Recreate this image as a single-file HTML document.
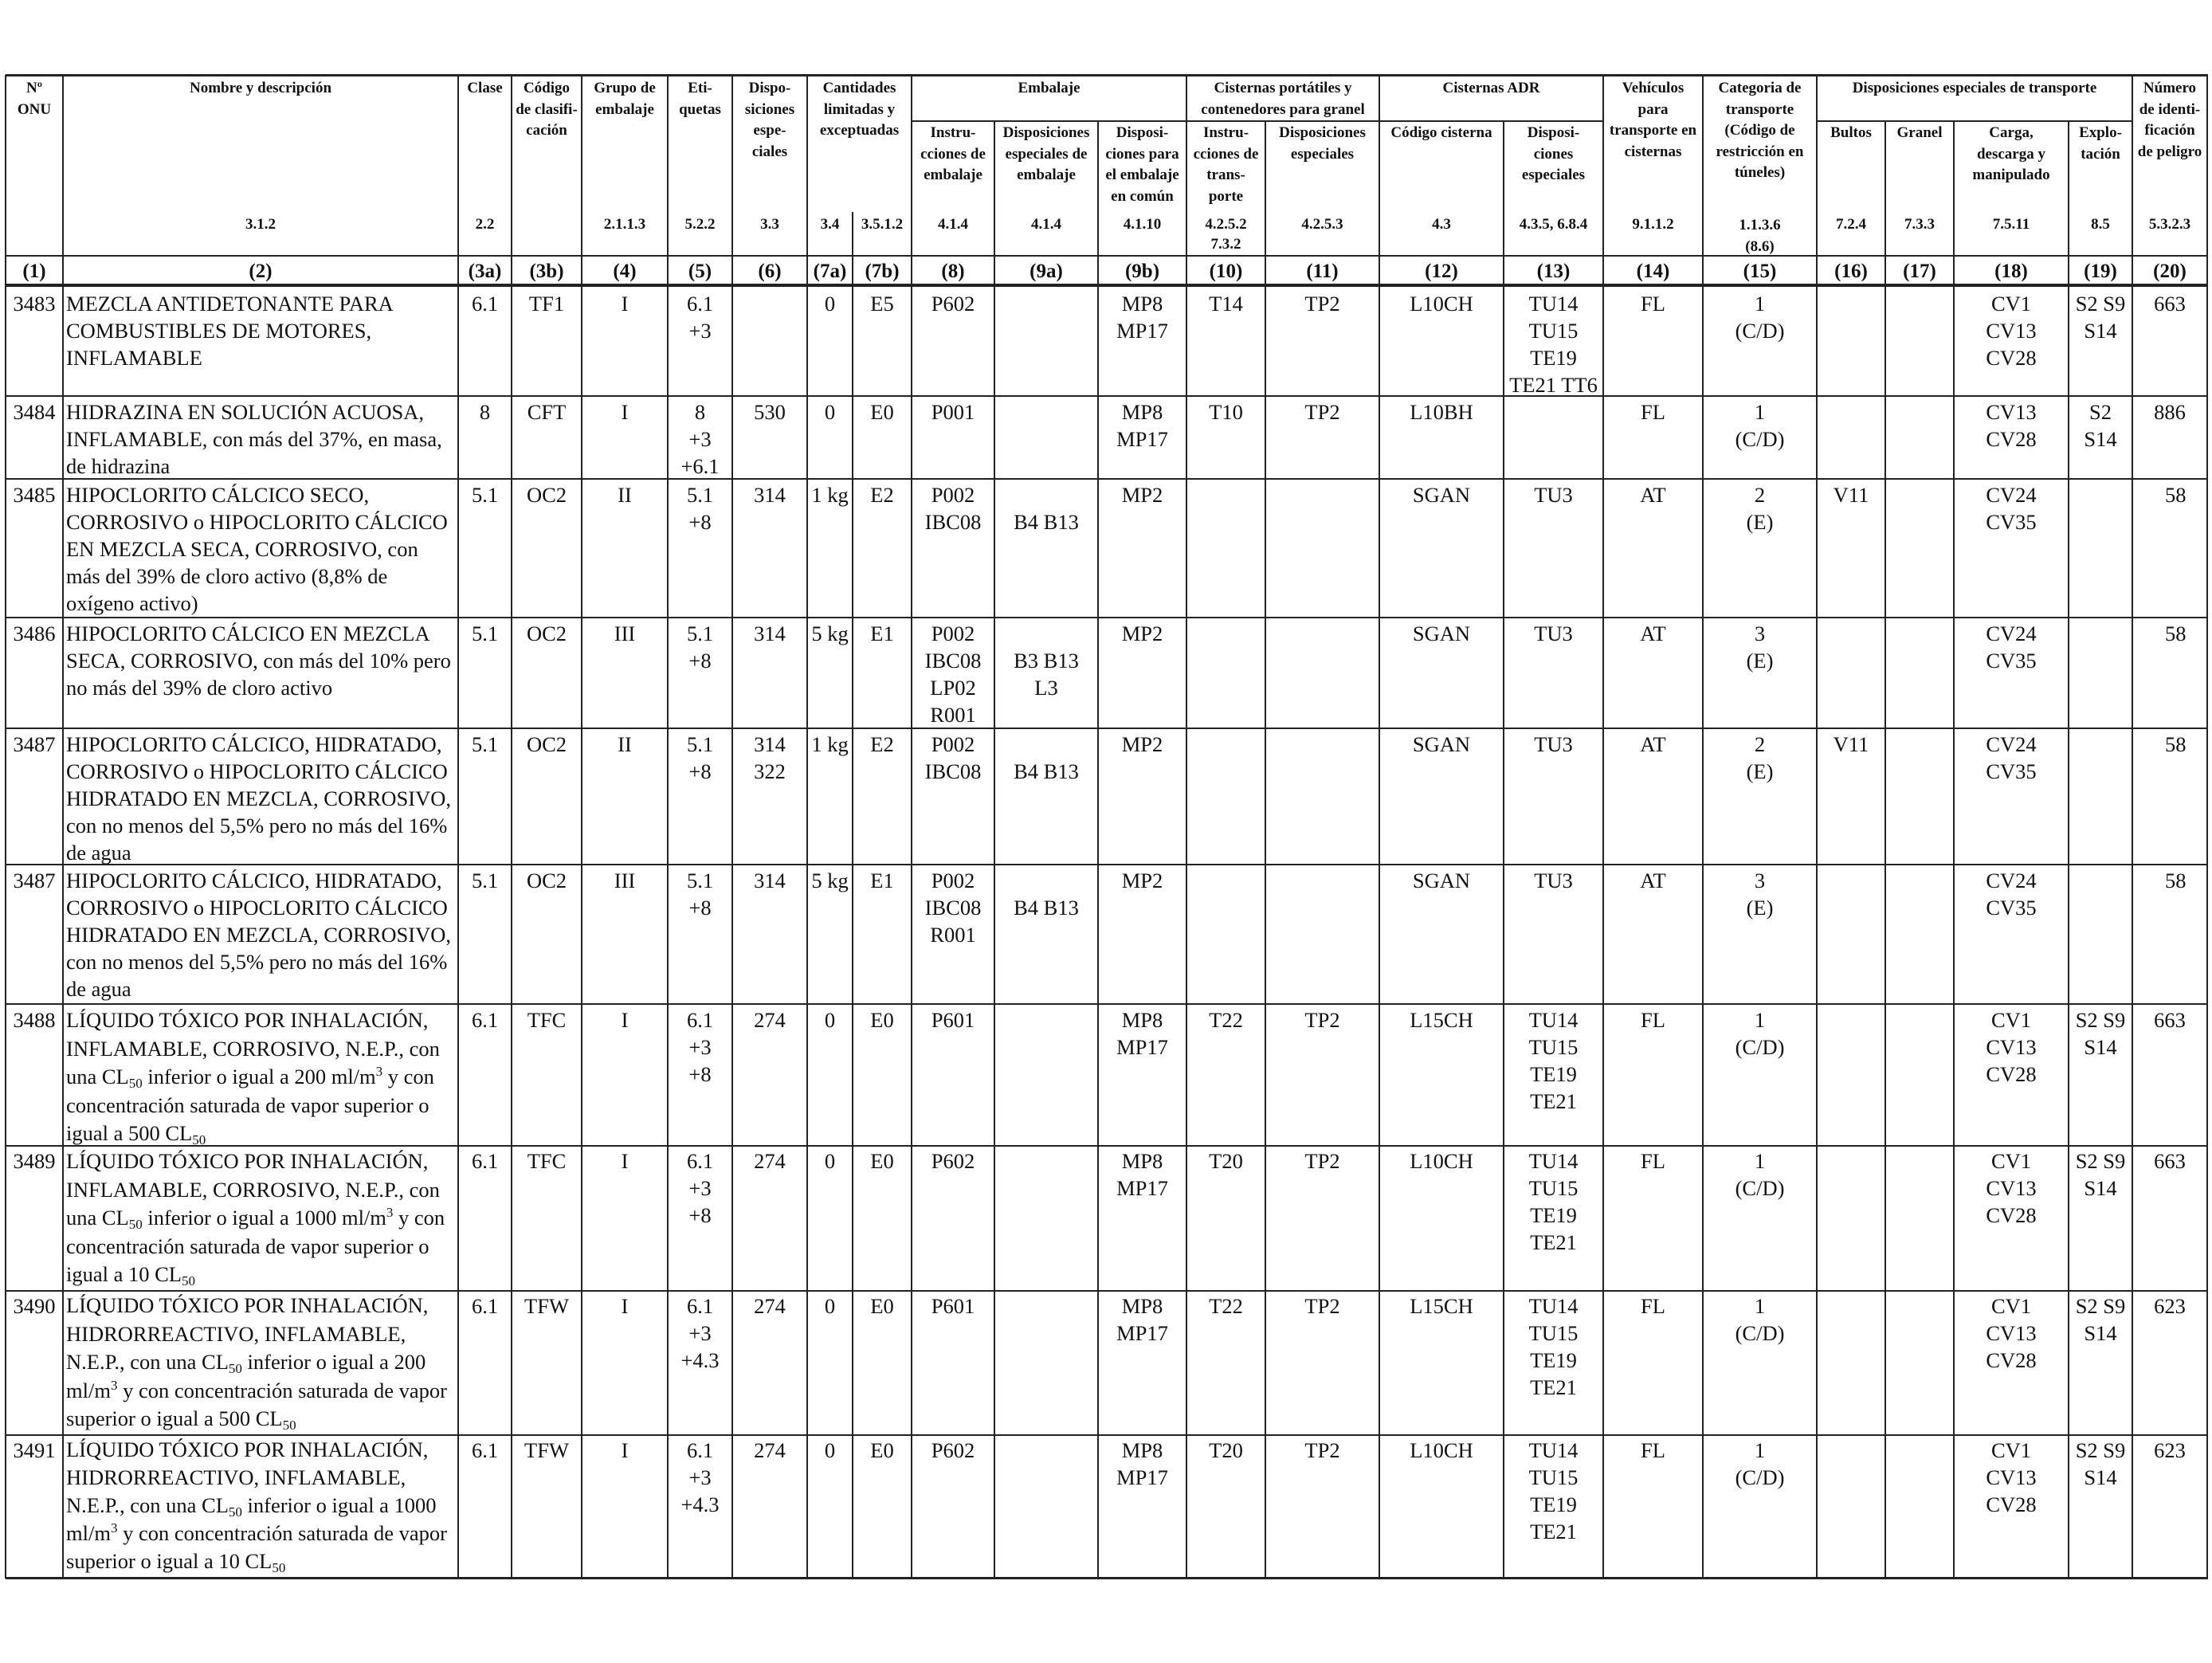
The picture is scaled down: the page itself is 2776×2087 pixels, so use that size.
<!DOCTYPE html>
<html><head><meta charset="utf-8">
<style>
body{margin:0;background:#fff;}
#p{position:relative;width:2776px;height:2087px;background:#fff;overflow:hidden;font-family:"Liberation Serif",serif;color:#111;}
.h,.v{position:absolute;background:#222;}
.c{position:absolute;text-align:center;font-size:26.5px;line-height:34px;white-space:nowrap;}
.n{text-align:left;padding-left:4px;}
.t{line-height:35.5px;}
.b{position:absolute;text-align:center;font-weight:bold;font-size:19px;line-height:26.5px;white-space:nowrap;}
.k{position:absolute;text-align:center;font-weight:bold;font-size:25px;line-height:34px;white-space:nowrap;top:324px;}
sub{font-size:17px;vertical-align:-5px;line-height:0;}
sup{font-size:17px;vertical-align:10px;line-height:0;}
</style></head><body><div id="p">
<div class="h" style="left:7px;top:93px;width:2764px;height:3px"></div>
<div class="h" style="left:1144px;top:151px;width:868px;height:2px"></div>
<div class="h" style="left:2280px;top:151px;width:396px;height:2px"></div>
<div class="h" style="left:7px;top:320px;width:2764px;height:2px"></div>
<div class="h" style="left:7px;top:356px;width:2764px;height:4px"></div>
<div class="h" style="left:7px;top:496px;width:2764px;height:2px"></div>
<div class="h" style="left:7px;top:600px;width:2764px;height:2px"></div>
<div class="h" style="left:7px;top:774px;width:2764px;height:2px"></div>
<div class="h" style="left:7px;top:913px;width:2764px;height:2px"></div>
<div class="h" style="left:7px;top:1084px;width:2764px;height:2px"></div>
<div class="h" style="left:7px;top:1259px;width:2764px;height:2px"></div>
<div class="h" style="left:7px;top:1437px;width:2764px;height:2px"></div>
<div class="h" style="left:7px;top:1619px;width:2764px;height:2px"></div>
<div class="h" style="left:7px;top:1800px;width:2764px;height:2px"></div>
<div class="h" style="left:7px;top:1979px;width:2764px;height:3px"></div>
<div class="v" style="left:6px;top:94px;width:2px;height:1887px"></div>
<div class="v" style="left:78px;top:94px;width:2px;height:1887px"></div>
<div class="v" style="left:574px;top:94px;width:2px;height:1887px"></div>
<div class="v" style="left:641px;top:94px;width:2px;height:1887px"></div>
<div class="v" style="left:729px;top:94px;width:2px;height:1887px"></div>
<div class="v" style="left:837px;top:94px;width:2px;height:1887px"></div>
<div class="v" style="left:918px;top:94px;width:2px;height:1887px"></div>
<div class="v" style="left:1012px;top:94px;width:2px;height:1887px"></div>
<div class="v" style="left:1069px;top:266px;width:2px;height:1715px"></div>
<div class="v" style="left:1143px;top:94px;width:2px;height:1887px"></div>
<div class="v" style="left:1247px;top:152px;width:2px;height:1829px"></div>
<div class="v" style="left:1377px;top:152px;width:2px;height:1829px"></div>
<div class="v" style="left:1488px;top:94px;width:2px;height:1887px"></div>
<div class="v" style="left:1587px;top:152px;width:2px;height:1829px"></div>
<div class="v" style="left:1730px;top:94px;width:2px;height:1887px"></div>
<div class="v" style="left:1886px;top:152px;width:2px;height:1829px"></div>
<div class="v" style="left:2011px;top:94px;width:2px;height:1887px"></div>
<div class="v" style="left:2136px;top:94px;width:2px;height:1887px"></div>
<div class="v" style="left:2279px;top:94px;width:2px;height:1887px"></div>
<div class="v" style="left:2365px;top:152px;width:2px;height:1829px"></div>
<div class="v" style="left:2451px;top:152px;width:2px;height:1829px"></div>
<div class="v" style="left:2595px;top:152px;width:2px;height:1829px"></div>
<div class="v" style="left:2675px;top:94px;width:2px;height:1887px"></div>
<div class="v" style="left:2769px;top:94px;width:2px;height:1887px"></div>

<div class="b" style="left:7px;width:72px;top:98px">Nº<br>ONU</div>
<div class="b" style="left:79px;width:496px;top:98px">Nombre y descripción</div>
<div class="b" style="left:575px;width:67px;top:98px">Clase</div>
<div class="b" style="left:642px;width:88px;top:98px">Código<br>de clasifi-<br>cación</div>
<div class="b" style="left:730px;width:108px;top:98px">Grupo de<br>embalaje</div>
<div class="b" style="left:838px;width:81px;top:98px">Eti-<br>quetas</div>
<div class="b" style="left:919px;width:94px;top:98px">Dispo-<br>siciones<br>espe-<br>ciales</div>
<div class="b" style="left:1013px;width:131px;top:98px">Cantidades<br>limitadas y<br>exceptuadas</div>
<div class="b" style="left:1144px;width:345px;top:98px">Embalaje</div>
<div class="b" style="left:1489px;width:242px;top:98px">Cisternas portátiles y<br>contenedores para granel</div>
<div class="b" style="left:1731px;width:281px;top:98px">Cisternas ADR</div>
<div class="b" style="left:2012px;width:125px;top:98px">Vehículos<br>para<br>transporte en<br>cisternas</div>
<div class="b" style="left:2137px;width:143px;top:98px">Categoria de<br>transporte<br>(Código de<br>restricción en<br>túneles)</div>
<div class="b" style="left:2280px;width:396px;top:98px">Disposiciones especiales de transporte</div>
<div class="b" style="left:2676px;width:94px;top:98px">Número<br>de identi-<br>ficación<br>de peligro</div>
<div class="b" style="left:1144px;width:104px;top:154px">Instru-<br>cciones de<br>embalaje</div>
<div class="b" style="left:1248px;width:130px;top:154px">Disposiciones<br>especiales de<br>embalaje</div>
<div class="b" style="left:1378px;width:111px;top:154px">Disposi-<br>ciones para<br>el embalaje<br>en común</div>
<div class="b" style="left:1489px;width:99px;top:154px">Instru-<br>cciones de<br>trans-<br>porte</div>
<div class="b" style="left:1588px;width:143px;top:154px">Disposiciones<br>especiales</div>
<div class="b" style="left:1731px;width:156px;top:154px">Código cisterna</div>
<div class="b" style="left:1887px;width:125px;top:154px">Disposi-<br>ciones<br>especiales</div>
<div class="b" style="left:2280px;width:86px;top:154px">Bultos</div>
<div class="b" style="left:2366px;width:86px;top:154px">Granel</div>
<div class="b" style="left:2452px;width:144px;top:154px">Carga,<br>descarga y<br>manipulado</div>
<div class="b" style="left:2596px;width:80px;top:154px">Explo-<br>tación</div>
<div class="b" style="left:79px;width:496px;top:269px">3.1.2</div>
<div class="b" style="left:575px;width:67px;top:269px">2.2</div>
<div class="b" style="left:730px;width:108px;top:269px">2.1.1.3</div>
<div class="b" style="left:838px;width:81px;top:269px">5.2.2</div>
<div class="b" style="left:919px;width:94px;top:269px">3.3</div>
<div class="b" style="left:1013px;width:57px;top:269px">3.4</div>
<div class="b" style="left:1070px;width:74px;top:269px">3.5.1.2</div>
<div class="b" style="left:1144px;width:104px;top:269px">4.1.4</div>
<div class="b" style="left:1248px;width:130px;top:269px">4.1.4</div>
<div class="b" style="left:1378px;width:111px;top:269px">4.1.10</div>
<div class="b" style="left:1489px;width:99px;top:269px;line-height:25px">4.2.5.2<br>7.3.2</div>
<div class="b" style="left:1588px;width:143px;top:269px">4.2.5.3</div>
<div class="b" style="left:1731px;width:156px;top:269px">4.3</div>
<div class="b" style="left:1887px;width:125px;top:269px">4.3.5, 6.8.4</div>
<div class="b" style="left:2012px;width:125px;top:269px">9.1.1.2</div>
<div class="b" style="left:2137px;width:143px;top:269px;line-height:27px">1.1.3.6<br>(8.6)</div>
<div class="b" style="left:2280px;width:86px;top:269px">7.2.4</div>
<div class="b" style="left:2366px;width:86px;top:269px">7.3.3</div>
<div class="b" style="left:2452px;width:144px;top:269px">7.5.11</div>
<div class="b" style="left:2596px;width:80px;top:269px">8.5</div>
<div class="b" style="left:2676px;width:94px;top:269px">5.3.2.3</div>
<div class="k" style="left:7px;width:72px">(1)</div>
<div class="k" style="left:79px;width:496px">(2)</div>
<div class="k" style="left:575px;width:67px">(3a)</div>
<div class="k" style="left:642px;width:88px">(3b)</div>
<div class="k" style="left:730px;width:108px">(4)</div>
<div class="k" style="left:838px;width:81px">(5)</div>
<div class="k" style="left:919px;width:94px">(6)</div>
<div class="k" style="left:1013px;width:57px">(7a)</div>
<div class="k" style="left:1070px;width:74px">(7b)</div>
<div class="k" style="left:1144px;width:104px">(8)</div>
<div class="k" style="left:1248px;width:130px">(9a)</div>
<div class="k" style="left:1378px;width:111px">(9b)</div>
<div class="k" style="left:1489px;width:99px">(10)</div>
<div class="k" style="left:1588px;width:143px">(11)</div>
<div class="k" style="left:1731px;width:156px">(12)</div>
<div class="k" style="left:1887px;width:125px">(13)</div>
<div class="k" style="left:2012px;width:125px">(14)</div>
<div class="k" style="left:2137px;width:143px">(15)</div>
<div class="k" style="left:2280px;width:86px">(16)</div>
<div class="k" style="left:2366px;width:86px">(17)</div>
<div class="k" style="left:2452px;width:144px">(18)</div>
<div class="k" style="left:2596px;width:80px">(19)</div>
<div class="k" style="left:2676px;width:94px">(20)</div>

<div class="c" style="left:7px;width:72px;top:364px">3483</div>
<div class="c n" style="left:79px;width:492px;top:364px">MEZCLA ANTIDETONANTE PARA<br>COMBUSTIBLES DE MOTORES,<br>INFLAMABLE</div>
<div class="c" style="left:575px;width:67px;top:364px">6.1</div>
<div class="c" style="left:642px;width:88px;top:364px">TF1</div>
<div class="c" style="left:730px;width:108px;top:364px">I</div>
<div class="c" style="left:838px;width:81px;top:364px">6.1<br>+3</div>
<div class="c" style="left:1013px;width:57px;top:364px">0</div>
<div class="c" style="left:1070px;width:74px;top:364px">E5</div>
<div class="c" style="left:1144px;width:104px;top:364px">P602</div>
<div class="c" style="left:1378px;width:111px;top:364px">MP8<br>MP17</div>
<div class="c" style="left:1489px;width:99px;top:364px">T14</div>
<div class="c" style="left:1588px;width:143px;top:364px">TP2</div>
<div class="c" style="left:1731px;width:156px;top:364px">L10CH</div>
<div class="c" style="left:1887px;width:125px;top:364px">TU14<br>TU15<br>TE19<br>TE21 TT6</div>
<div class="c" style="left:2012px;width:125px;top:364px">FL</div>
<div class="c" style="left:2137px;width:143px;top:364px">1<br>(C/D)</div>
<div class="c" style="left:2452px;width:144px;top:364px">CV1<br>CV13<br>CV28</div>
<div class="c" style="left:2596px;width:80px;top:364px">S2 S9<br>S14</div>
<div class="c" style="left:2676px;width:94px;top:364px">663</div>

<div class="c" style="left:7px;width:72px;top:500px">3484</div>
<div class="c n" style="left:79px;width:492px;top:500px">HIDRAZINA EN SOLUCIÓN ACUOSA,<br>INFLAMABLE, con más del 37%, en masa,<br>de hidrazina</div>
<div class="c" style="left:575px;width:67px;top:500px">8</div>
<div class="c" style="left:642px;width:88px;top:500px">CFT</div>
<div class="c" style="left:730px;width:108px;top:500px">I</div>
<div class="c" style="left:838px;width:81px;top:500px">8<br>+3<br>+6.1</div>
<div class="c" style="left:919px;width:94px;top:500px">530</div>
<div class="c" style="left:1013px;width:57px;top:500px">0</div>
<div class="c" style="left:1070px;width:74px;top:500px">E0</div>
<div class="c" style="left:1144px;width:104px;top:500px">P001</div>
<div class="c" style="left:1378px;width:111px;top:500px">MP8<br>MP17</div>
<div class="c" style="left:1489px;width:99px;top:500px">T10</div>
<div class="c" style="left:1588px;width:143px;top:500px">TP2</div>
<div class="c" style="left:1731px;width:156px;top:500px">L10BH</div>
<div class="c" style="left:2012px;width:125px;top:500px">FL</div>
<div class="c" style="left:2137px;width:143px;top:500px">1<br>(C/D)</div>
<div class="c" style="left:2452px;width:144px;top:500px">CV13<br>CV28</div>
<div class="c" style="left:2596px;width:80px;top:500px">S2<br>S14</div>
<div class="c" style="left:2676px;width:94px;top:500px">886</div>

<div class="c" style="left:7px;width:72px;top:604px">3485</div>
<div class="c n" style="left:79px;width:492px;top:604px">HIPOCLORITO CÁLCICO SECO,<br>CORROSIVO o HIPOCLORITO CÁLCICO<br>EN MEZCLA SECA, CORROSIVO, con<br>más del 39% de cloro activo (8,8% de<br>oxígeno activo)</div>
<div class="c" style="left:575px;width:67px;top:604px">5.1</div>
<div class="c" style="left:642px;width:88px;top:604px">OC2</div>
<div class="c" style="left:730px;width:108px;top:604px">II</div>
<div class="c" style="left:838px;width:81px;top:604px">5.1<br>+8</div>
<div class="c" style="left:919px;width:94px;top:604px">314</div>
<div class="c" style="left:1013px;width:57px;top:604px">1 kg</div>
<div class="c" style="left:1070px;width:74px;top:604px">E2</div>
<div class="c" style="left:1144px;width:104px;top:604px">P002<br>IBC08</div>
<div class="c" style="left:1248px;width:130px;top:604px"><br>B4 B13</div>
<div class="c" style="left:1378px;width:111px;top:604px">MP2</div>
<div class="c" style="left:1731px;width:156px;top:604px">SGAN</div>
<div class="c" style="left:1887px;width:125px;top:604px">TU3</div>
<div class="c" style="left:2012px;width:125px;top:604px">AT</div>
<div class="c" style="left:2137px;width:143px;top:604px">2<br>(E)</div>
<div class="c" style="left:2280px;width:86px;top:604px">V11</div>
<div class="c" style="left:2452px;width:144px;top:604px">CV24<br>CV35</div>
<div class="c" style="left:2676px;width:94px;top:604px;text-align:right">58&nbsp;&nbsp;&nbsp;&nbsp;</div>

<div class="c" style="left:7px;width:72px;top:778px">3486</div>
<div class="c n" style="left:79px;width:492px;top:778px">HIPOCLORITO CÁLCICO EN MEZCLA<br>SECA, CORROSIVO, con más del 10% pero<br>no más del 39% de cloro activo</div>
<div class="c" style="left:575px;width:67px;top:778px">5.1</div>
<div class="c" style="left:642px;width:88px;top:778px">OC2</div>
<div class="c" style="left:730px;width:108px;top:778px">III</div>
<div class="c" style="left:838px;width:81px;top:778px">5.1<br>+8</div>
<div class="c" style="left:919px;width:94px;top:778px">314</div>
<div class="c" style="left:1013px;width:57px;top:778px">5 kg</div>
<div class="c" style="left:1070px;width:74px;top:778px">E1</div>
<div class="c" style="left:1144px;width:104px;top:778px">P002<br>IBC08<br>LP02<br>R001</div>
<div class="c" style="left:1248px;width:130px;top:778px"><br>B3 B13<br>L3</div>
<div class="c" style="left:1378px;width:111px;top:778px">MP2</div>
<div class="c" style="left:1731px;width:156px;top:778px">SGAN</div>
<div class="c" style="left:1887px;width:125px;top:778px">TU3</div>
<div class="c" style="left:2012px;width:125px;top:778px">AT</div>
<div class="c" style="left:2137px;width:143px;top:778px">3<br>(E)</div>
<div class="c" style="left:2452px;width:144px;top:778px">CV24<br>CV35</div>
<div class="c" style="left:2676px;width:94px;top:778px;text-align:right">58&nbsp;&nbsp;&nbsp;&nbsp;</div>

<div class="c" style="left:7px;width:72px;top:917px">3487</div>
<div class="c n" style="left:79px;width:492px;top:917px">HIPOCLORITO CÁLCICO, HIDRATADO,<br>CORROSIVO o HIPOCLORITO CÁLCICO<br>HIDRATADO EN MEZCLA, CORROSIVO,<br>con no menos del 5,5% pero no más del 16%<br>de agua</div>
<div class="c" style="left:575px;width:67px;top:917px">5.1</div>
<div class="c" style="left:642px;width:88px;top:917px">OC2</div>
<div class="c" style="left:730px;width:108px;top:917px">II</div>
<div class="c" style="left:838px;width:81px;top:917px">5.1<br>+8</div>
<div class="c" style="left:919px;width:94px;top:917px">314<br>322</div>
<div class="c" style="left:1013px;width:57px;top:917px">1 kg</div>
<div class="c" style="left:1070px;width:74px;top:917px">E2</div>
<div class="c" style="left:1144px;width:104px;top:917px">P002<br>IBC08</div>
<div class="c" style="left:1248px;width:130px;top:917px"><br>B4 B13</div>
<div class="c" style="left:1378px;width:111px;top:917px">MP2</div>
<div class="c" style="left:1731px;width:156px;top:917px">SGAN</div>
<div class="c" style="left:1887px;width:125px;top:917px">TU3</div>
<div class="c" style="left:2012px;width:125px;top:917px">AT</div>
<div class="c" style="left:2137px;width:143px;top:917px">2<br>(E)</div>
<div class="c" style="left:2280px;width:86px;top:917px">V11</div>
<div class="c" style="left:2452px;width:144px;top:917px">CV24<br>CV35</div>
<div class="c" style="left:2676px;width:94px;top:917px;text-align:right">58&nbsp;&nbsp;&nbsp;&nbsp;</div>

<div class="c" style="left:7px;width:72px;top:1088px">3487</div>
<div class="c n" style="left:79px;width:492px;top:1088px">HIPOCLORITO CÁLCICO, HIDRATADO,<br>CORROSIVO o HIPOCLORITO CÁLCICO<br>HIDRATADO EN MEZCLA, CORROSIVO,<br>con no menos del 5,5% pero no más del 16%<br>de agua</div>
<div class="c" style="left:575px;width:67px;top:1088px">5.1</div>
<div class="c" style="left:642px;width:88px;top:1088px">OC2</div>
<div class="c" style="left:730px;width:108px;top:1088px">III</div>
<div class="c" style="left:838px;width:81px;top:1088px">5.1<br>+8</div>
<div class="c" style="left:919px;width:94px;top:1088px">314</div>
<div class="c" style="left:1013px;width:57px;top:1088px">5 kg</div>
<div class="c" style="left:1070px;width:74px;top:1088px">E1</div>
<div class="c" style="left:1144px;width:104px;top:1088px">P002<br>IBC08<br>R001</div>
<div class="c" style="left:1248px;width:130px;top:1088px"><br>B4 B13</div>
<div class="c" style="left:1378px;width:111px;top:1088px">MP2</div>
<div class="c" style="left:1731px;width:156px;top:1088px">SGAN</div>
<div class="c" style="left:1887px;width:125px;top:1088px">TU3</div>
<div class="c" style="left:2012px;width:125px;top:1088px">AT</div>
<div class="c" style="left:2137px;width:143px;top:1088px">3<br>(E)</div>
<div class="c" style="left:2452px;width:144px;top:1088px">CV24<br>CV35</div>
<div class="c" style="left:2676px;width:94px;top:1088px;text-align:right">58&nbsp;&nbsp;&nbsp;&nbsp;</div>

<div class="c" style="left:7px;width:72px;top:1263px">3488</div>
<div class="c n t" style="left:79px;width:492px;top:1263px">LÍQUIDO TÓXICO POR INHALACIÓN,<br>INFLAMABLE, CORROSIVO, N.E.P., con<br>una CL<sub>50</sub> inferior o igual a 200 ml/m<sup>3</sup> y con<br>concentración saturada de vapor superior o<br>igual a 500 CL<sub>50</sub></div>
<div class="c" style="left:575px;width:67px;top:1263px">6.1</div>
<div class="c" style="left:642px;width:88px;top:1263px">TFC</div>
<div class="c" style="left:730px;width:108px;top:1263px">I</div>
<div class="c" style="left:838px;width:81px;top:1263px">6.1<br>+3<br>+8</div>
<div class="c" style="left:919px;width:94px;top:1263px">274</div>
<div class="c" style="left:1013px;width:57px;top:1263px">0</div>
<div class="c" style="left:1070px;width:74px;top:1263px">E0</div>
<div class="c" style="left:1144px;width:104px;top:1263px">P601</div>
<div class="c" style="left:1378px;width:111px;top:1263px">MP8<br>MP17</div>
<div class="c" style="left:1489px;width:99px;top:1263px">T22</div>
<div class="c" style="left:1588px;width:143px;top:1263px">TP2</div>
<div class="c" style="left:1731px;width:156px;top:1263px">L15CH</div>
<div class="c" style="left:1887px;width:125px;top:1263px">TU14<br>TU15<br>TE19<br>TE21</div>
<div class="c" style="left:2012px;width:125px;top:1263px">FL</div>
<div class="c" style="left:2137px;width:143px;top:1263px">1<br>(C/D)</div>
<div class="c" style="left:2452px;width:144px;top:1263px">CV1<br>CV13<br>CV28</div>
<div class="c" style="left:2596px;width:80px;top:1263px">S2 S9<br>S14</div>
<div class="c" style="left:2676px;width:94px;top:1263px">663</div>

<div class="c" style="left:7px;width:72px;top:1440px">3489</div>
<div class="c n t" style="left:79px;width:492px;top:1440px">LÍQUIDO TÓXICO POR INHALACIÓN,<br>INFLAMABLE, CORROSIVO, N.E.P., con<br>una CL<sub>50</sub> inferior o igual a 1000 ml/m<sup>3</sup> y con<br>concentración saturada de vapor superior o<br>igual a 10 CL<sub>50</sub></div>
<div class="c" style="left:575px;width:67px;top:1440px">6.1</div>
<div class="c" style="left:642px;width:88px;top:1440px">TFC</div>
<div class="c" style="left:730px;width:108px;top:1440px">I</div>
<div class="c" style="left:838px;width:81px;top:1440px">6.1<br>+3<br>+8</div>
<div class="c" style="left:919px;width:94px;top:1440px">274</div>
<div class="c" style="left:1013px;width:57px;top:1440px">0</div>
<div class="c" style="left:1070px;width:74px;top:1440px">E0</div>
<div class="c" style="left:1144px;width:104px;top:1440px">P602</div>
<div class="c" style="left:1378px;width:111px;top:1440px">MP8<br>MP17</div>
<div class="c" style="left:1489px;width:99px;top:1440px">T20</div>
<div class="c" style="left:1588px;width:143px;top:1440px">TP2</div>
<div class="c" style="left:1731px;width:156px;top:1440px">L10CH</div>
<div class="c" style="left:1887px;width:125px;top:1440px">TU14<br>TU15<br>TE19<br>TE21</div>
<div class="c" style="left:2012px;width:125px;top:1440px">FL</div>
<div class="c" style="left:2137px;width:143px;top:1440px">1<br>(C/D)</div>
<div class="c" style="left:2452px;width:144px;top:1440px">CV1<br>CV13<br>CV28</div>
<div class="c" style="left:2596px;width:80px;top:1440px">S2 S9<br>S14</div>
<div class="c" style="left:2676px;width:94px;top:1440px">663</div>

<div class="c" style="left:7px;width:72px;top:1622px">3490</div>
<div class="c n t" style="left:79px;width:492px;top:1621px;line-height:35.5px">LÍQUIDO TÓXICO POR INHALACIÓN,<br>HIDRORREACTIVO, INFLAMABLE,<br>N.E.P., con una CL<sub>50</sub> inferior o igual a 200<br>ml/m<sup>3</sup> y con concentración saturada de vapor<br>superior o igual a 500 CL<sub>50</sub></div>
<div class="c" style="left:575px;width:67px;top:1622px">6.1</div>
<div class="c" style="left:642px;width:88px;top:1622px">TFW</div>
<div class="c" style="left:730px;width:108px;top:1622px">I</div>
<div class="c" style="left:838px;width:81px;top:1622px">6.1<br>+3<br>+4.3</div>
<div class="c" style="left:919px;width:94px;top:1622px">274</div>
<div class="c" style="left:1013px;width:57px;top:1622px">0</div>
<div class="c" style="left:1070px;width:74px;top:1622px">E0</div>
<div class="c" style="left:1144px;width:104px;top:1622px">P601</div>
<div class="c" style="left:1378px;width:111px;top:1622px">MP8<br>MP17</div>
<div class="c" style="left:1489px;width:99px;top:1622px">T22</div>
<div class="c" style="left:1588px;width:143px;top:1622px">TP2</div>
<div class="c" style="left:1731px;width:156px;top:1622px">L15CH</div>
<div class="c" style="left:1887px;width:125px;top:1622px">TU14<br>TU15<br>TE19<br>TE21</div>
<div class="c" style="left:2012px;width:125px;top:1622px">FL</div>
<div class="c" style="left:2137px;width:143px;top:1622px">1<br>(C/D)</div>
<div class="c" style="left:2452px;width:144px;top:1622px">CV1<br>CV13<br>CV28</div>
<div class="c" style="left:2596px;width:80px;top:1622px">S2 S9<br>S14</div>
<div class="c" style="left:2676px;width:94px;top:1622px">623</div>

<div class="c" style="left:7px;width:72px;top:1803px">3491</div>
<div class="c n t" style="left:79px;width:492px;top:1802px;line-height:35px">LÍQUIDO TÓXICO POR INHALACIÓN,<br>HIDRORREACTIVO, INFLAMABLE,<br>N.E.P., con una CL<sub>50</sub> inferior o igual a 1000<br>ml/m<sup>3</sup> y con concentración saturada de vapor<br>superior o igual a 10 CL<sub>50</sub></div>
<div class="c" style="left:575px;width:67px;top:1803px">6.1</div>
<div class="c" style="left:642px;width:88px;top:1803px">TFW</div>
<div class="c" style="left:730px;width:108px;top:1803px">I</div>
<div class="c" style="left:838px;width:81px;top:1803px">6.1<br>+3<br>+4.3</div>
<div class="c" style="left:919px;width:94px;top:1803px">274</div>
<div class="c" style="left:1013px;width:57px;top:1803px">0</div>
<div class="c" style="left:1070px;width:74px;top:1803px">E0</div>
<div class="c" style="left:1144px;width:104px;top:1803px">P602</div>
<div class="c" style="left:1378px;width:111px;top:1803px">MP8<br>MP17</div>
<div class="c" style="left:1489px;width:99px;top:1803px">T20</div>
<div class="c" style="left:1588px;width:143px;top:1803px">TP2</div>
<div class="c" style="left:1731px;width:156px;top:1803px">L10CH</div>
<div class="c" style="left:1887px;width:125px;top:1803px">TU14<br>TU15<br>TE19<br>TE21</div>
<div class="c" style="left:2012px;width:125px;top:1803px">FL</div>
<div class="c" style="left:2137px;width:143px;top:1803px">1<br>(C/D)</div>
<div class="c" style="left:2452px;width:144px;top:1803px">CV1<br>CV13<br>CV28</div>
<div class="c" style="left:2596px;width:80px;top:1803px">S2 S9<br>S14</div>
<div class="c" style="left:2676px;width:94px;top:1803px">623</div>
</div></body></html>
